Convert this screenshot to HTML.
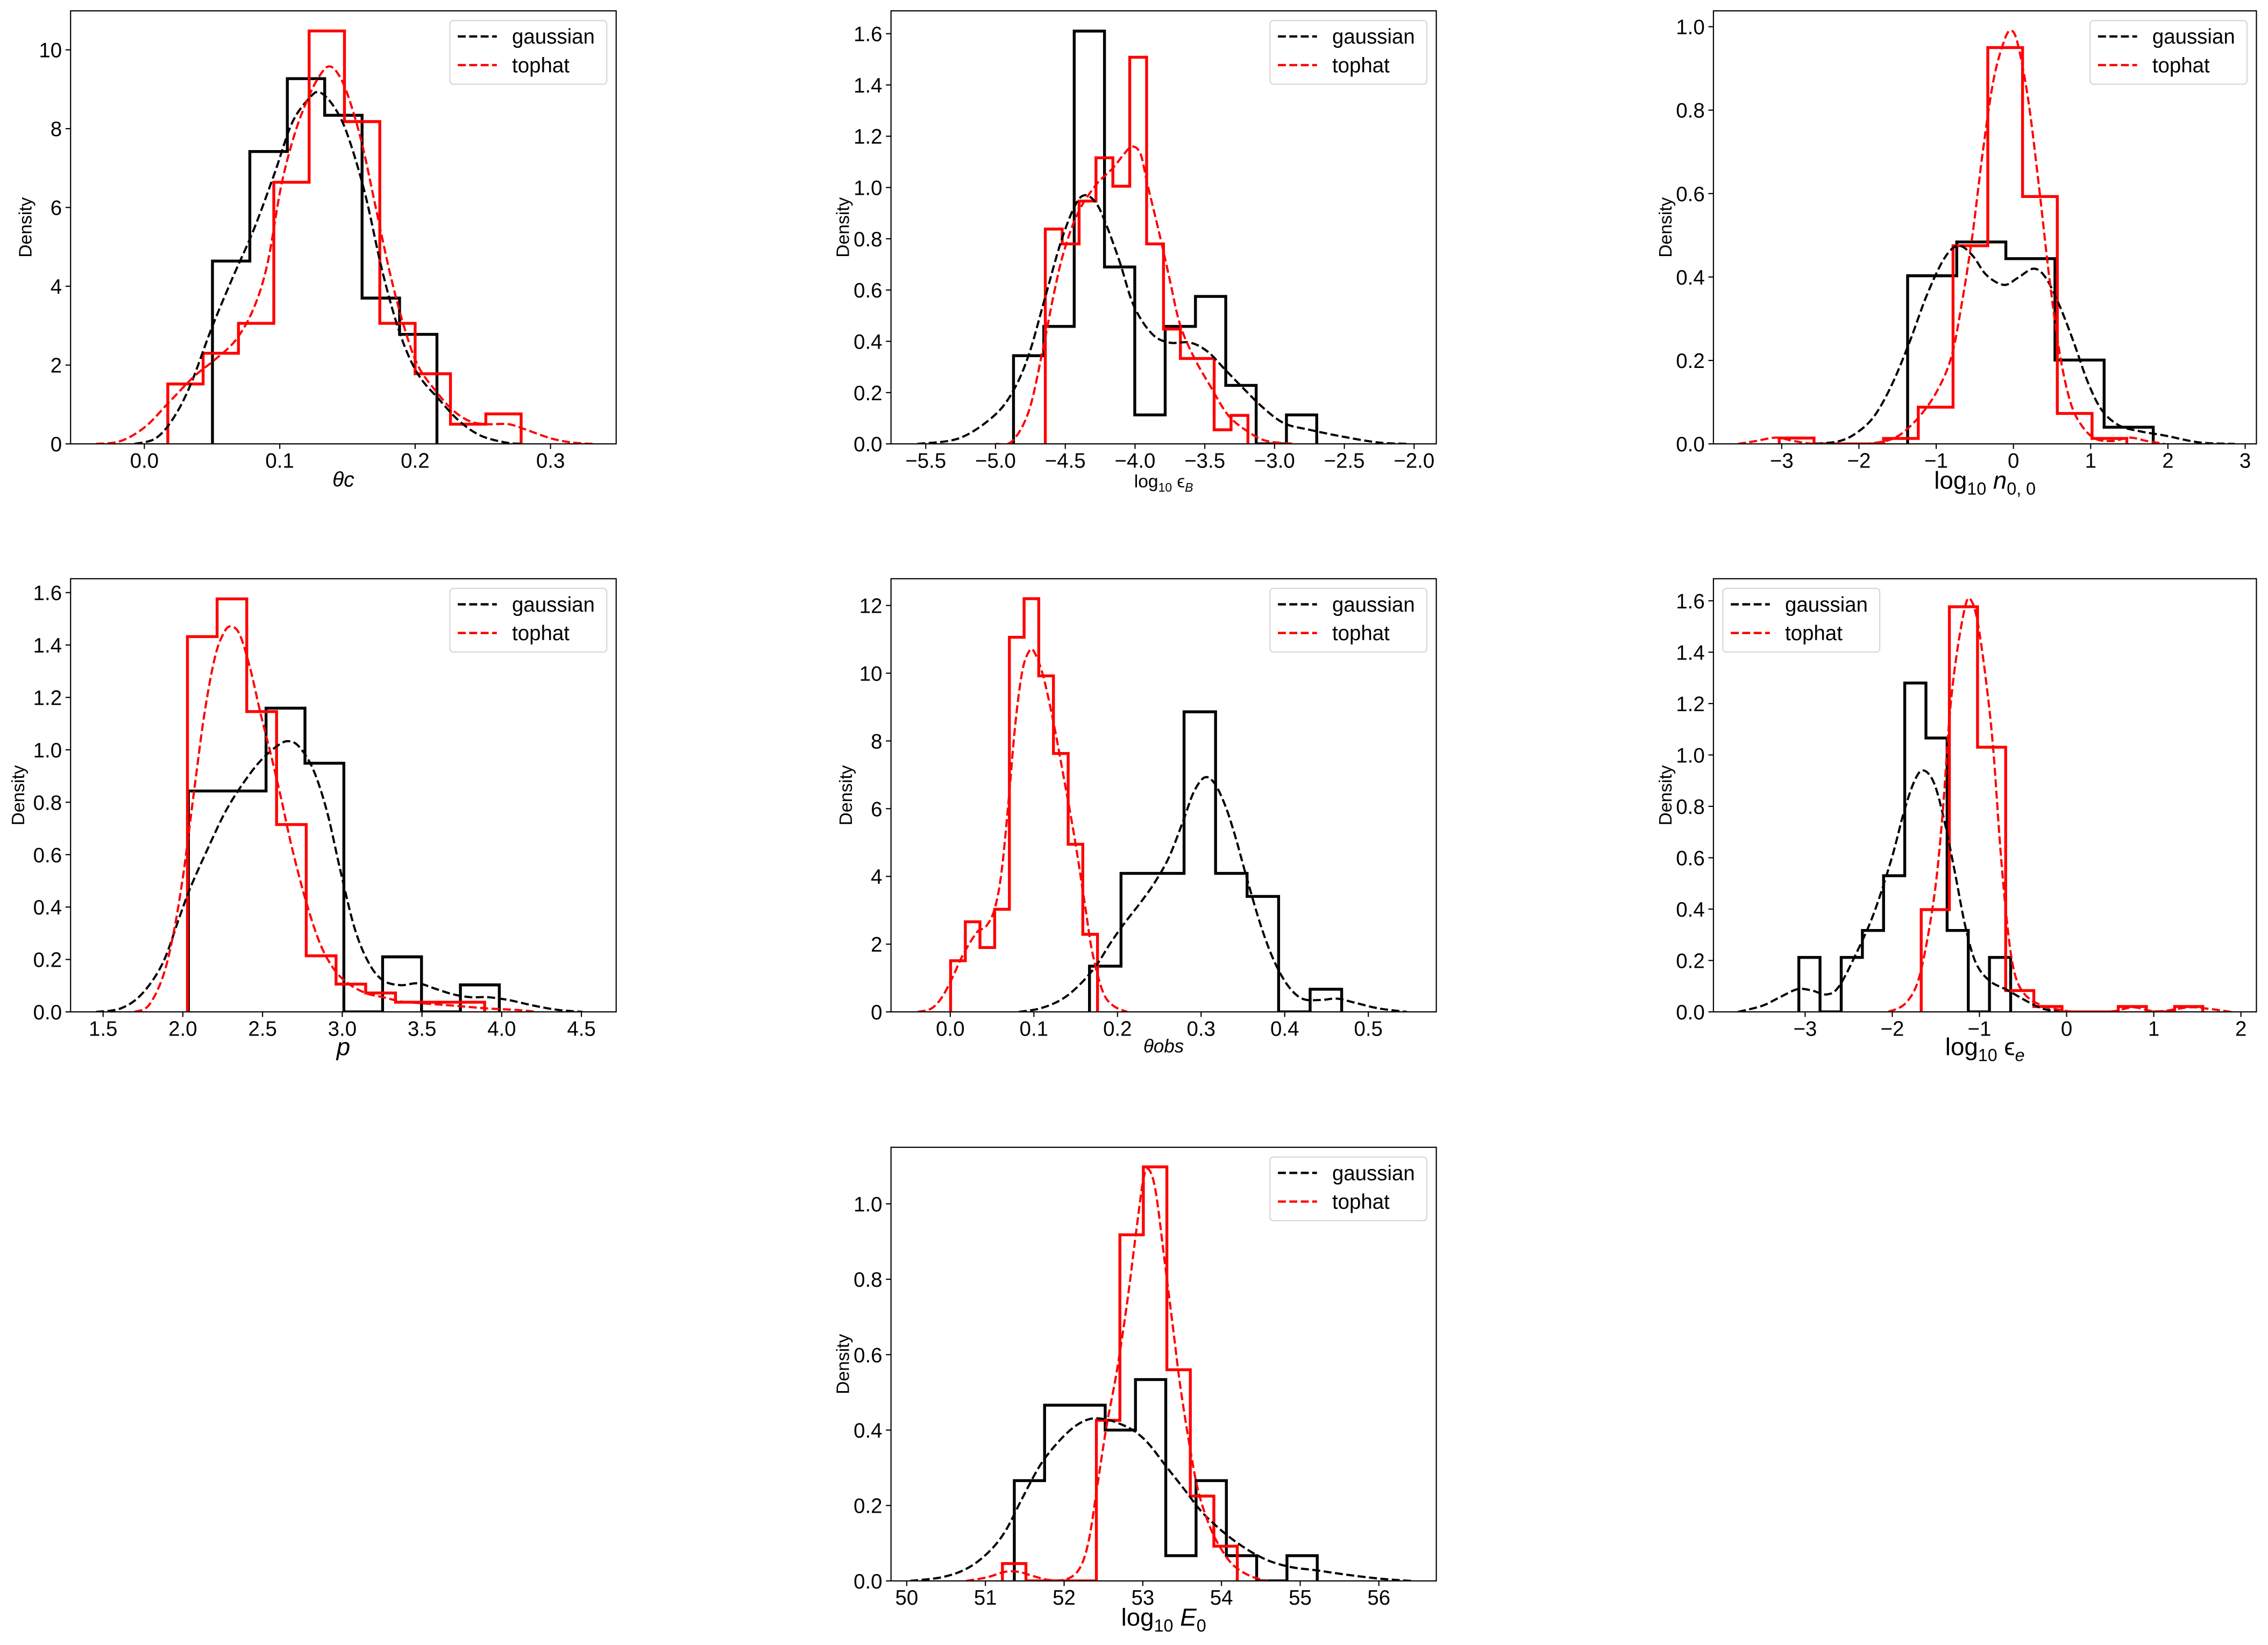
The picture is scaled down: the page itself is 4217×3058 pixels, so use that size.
<!DOCTYPE html>
<html><head><meta charset="utf-8"><title>KDE histograms</title>
<style>html,body{margin:0;padding:0;background:#fff}svg{display:block}</style></head>
<body>
<svg id="fig" xmlns="http://www.w3.org/2000/svg" width="4217" height="3058" viewBox="0 0 1568 1137" preserveAspectRatio="none" font-family="'Liberation Sans','DejaVu Sans',sans-serif"></svg>
<script>
// ---------- Panel 1: theta_c ----------
const p1BlackEdges=[0.0503,0.0779,0.1056,0.1332,0.1608,0.1885,0.2161];
const p1BlackDens=[4.64,7.42,9.27,8.34,3.70,2.78];
const p1RedEdges=[0.0173,0.0434,0.0695,0.0956,0.1217,0.1478,0.1739,0.2,0.2261,0.2522,0.2783];
const p1RedDens=[1.52,2.30,3.06,6.64,10.48,8.18,3.06,1.78,0.50,0.76];
const p1GaussX=[-0.0072,0.0083,0.0212,0.0341,0.0496,0.0651,0.0806,0.096,0.109,0.122,0.1296,0.14,0.150,0.163,0.176,0.189,0.2019,0.2174,0.2329,0.2484,0.2665,0.279];
const p1GaussY=[0,0.14,0.64,1.50,2.93,4.21,5.42,6.85,8.14,8.78,8.92,8.56,7.85,6.35,4.35,2.78,1.78,1.14,0.57,0.21,0.036,0];
const p1TopX=[-0.0356,-0.0176,0.0005,0.0186,0.0367,0.0522,0.0676,0.0806,0.0909,0.1012,0.1115,0.1219,0.1296,0.136,0.1425,0.1503,0.1606,0.1709,0.1813,0.1916,0.2019,0.2148,0.2277,0.2406,0.2535,0.269,0.282,0.300,0.3155,0.331];
const p1TopY=[0,0.071,0.43,1.07,1.71,2.14,2.64,3.43,4.57,6.57,7.92,8.85,9.35,9.58,9.42,8.85,7.64,6.0,4.35,3.0,2.0,1.36,0.86,0.57,0.50,0.50,0.36,0.143,0.036,0];
const p1XTicks=[0,0.1,0.2,0.3];
const p1XTickLabels=["0.0","0.1","0.2","0.3"];
const p1YTicks=[0,2,4,6,8,10];
const p1YTickLabels=["0","2","4","6","8","10"];
// ---------- Panel 2: log10 eps_B ----------
const p2BlackEdges=[-4.871,-4.654,-4.436,-4.219,-4.002,-3.784,-3.567,-3.350,-3.132,-2.915,-2.698];
const p2BlackDens=[0.344,0.458,1.61,0.69,0.113,0.458,0.575,0.228,0,0.113];
const p2RedEdges=[-4.643,-4.522,-4.401,-4.280,-4.159,-4.038,-3.917,-3.796,-3.675,-3.554,-3.433,-3.312,-3.191];
const p2RedDens=[0.838,0.78,0.947,1.116,1.005,1.508,0.78,0.448,0.333,0.333,0.055,0.111];
const p2GaussX=[-5.56,-5.26,-5.01,-4.87,-4.76,-4.645,-4.53,-4.43,-4.36,-4.28,-4.21,-4.11,-4.01,-3.88,-3.755,-3.605,-3.48,-3.355,-3.23,-3.08,-2.93,-2.75,-2.50,-2.25,-2.03];
const p2GaussY=[0,0.022,0.11,0.21,0.35,0.57,0.79,0.93,0.97,0.94,0.86,0.71,0.54,0.43,0.395,0.395,0.36,0.29,0.22,0.14,0.08,0.055,0.027,0.005,0];
const p2TopX=[-4.996,-4.88,-4.76,-4.66,-4.58,-4.51,-4.41,-4.28,-4.16,-4.08,-4.02,-3.96,-3.91,-3.83,-3.755,-3.68,-3.58,-3.455,-3.33,-3.18,-3.053,-2.85];
const p2TopY=[0,0.011,0.13,0.37,0.59,0.75,0.90,1.01,1.075,1.13,1.16,1.13,1.01,0.83,0.65,0.47,0.34,0.22,0.11,0.044,0.011,0];
const p2XTicks=[-5.5,-5.0,-4.5,-4.0,-3.5,-3.0,-2.5,-2.0];
const p2XTickLabels=["−5.5","−5.0","−4.5","−4.0","−3.5","−3.0","−2.5","−2.0"];
const p2YTicks=[0,0.2,0.4,0.6,0.8,1.0,1.2,1.4,1.6];
const p2YTickLabels=["0.0","0.2","0.4","0.6","0.8","1.0","1.2","1.4","1.6"];
// ---------- Panel 3: log10 n0,0 ----------
const p3BlackEdges=[-1.370,-0.734,-0.098,0.538,1.174,1.810];
const p3BlackDens=[0.403,0.484,0.444,0.201,0.040];
const p3RedEdges=[-3.032,-2.582,-2.132,-1.682,-1.232,-0.782,-0.332,0.118,0.568,1.018,1.468];
const p3RedDens=[0.014,0,0,0.013,0.088,0.475,0.950,0.593,0.073,0.013];
const p3GaussX=[-2.570,-2.253,-2.026,-1.80,-1.574,-1.347,-1.12,-0.894,-0.713,-0.532,-0.351,-0.124,0.057,0.261,0.419,0.60,0.782,0.963,1.144,1.37,1.642,1.959,2.412,2.865];
const p3GaussY=[0,0.0067,0.027,0.067,0.142,0.243,0.357,0.445,0.475,0.452,0.405,0.381,0.398,0.420,0.398,0.330,0.243,0.148,0.081,0.044,0.030,0.020,0.0034,0];
const p3TopX=[-3.566,-3.34,-3.068,-2.841,-2.57,-2.117,-1.755,-1.483,-1.211,-0.985,-0.803,-0.668,-0.532,-0.396,-0.26,-0.124,-0.033,0.057,0.193,0.329,0.465,0.60,0.736,0.872,1.053,1.28,1.506,1.733,1.959];
const p3TopY=[0,0.0067,0.015,0.0067,0,0,0.0034,0.020,0.067,0.128,0.209,0.337,0.499,0.701,0.870,0.964,0.991,0.958,0.823,0.62,0.398,0.216,0.101,0.047,0.013,0.0067,0.015,0.0067,0];
const p3XTicks=[-3,-2,-1,0,1,2,3];
const p3XTickLabels=["−3","−2","−1","0","1","2","3"];
const p3YTicks=[0,0.2,0.4,0.6,0.8,1.0];
const p3YTickLabels=["0.0","0.2","0.4","0.6","0.8","1.0"];
// ---------- Panel 4: p ----------
const p4BlackEdges=[2.035,2.279,2.522,2.766,3.010,3.253,3.497,3.741,3.985];
const p4BlackDens=[0.843,0.843,1.159,0.949,0,0.210,0,0.103];
const p4RedEdges=[2.029,2.215,2.401,2.588,2.774,2.961,3.147,3.334,3.520,3.706,3.893];
const p4RedDens=[1.432,1.576,1.146,0.715,0.214,0.106,0.072,0.037,0.037,0.037];
const p4GaussX=[1.456,1.609,1.741,1.873,1.982,2.048,2.158,2.268,2.378,2.487,2.597,2.663,2.729,2.817,2.904,2.992,3.08,3.168,3.256,3.366,3.475,3.585,3.695,3.805,3.914,4.046,4.2,4.353,4.507];
const p4GaussY=[0,0.013,0.067,0.185,0.367,0.475,0.625,0.765,0.872,0.958,1.017,1.033,1.012,0.926,0.765,0.529,0.314,0.185,0.120,0.102,0.109,0.088,0.067,0.056,0.056,0.045,0.024,0.0075,0];
const p4TopX=[1.697,1.785,1.873,1.939,2.004,2.07,2.136,2.202,2.257,2.30,2.356,2.422,2.487,2.553,2.619,2.685,2.773,2.861,2.948,3.036,3.146,3.256,3.366,3.475,3.695,3.914,4.09,4.222];
const p4TopY=[0,0.024,0.131,0.292,0.529,0.84,1.14,1.355,1.446,1.471,1.441,1.312,1.14,0.98,0.808,0.625,0.421,0.260,0.163,0.109,0.072,0.056,0.040,0.034,0.024,0.013,0.0075,0];
const p4XTicks=[1.5,2.0,2.5,3.0,3.5,4.0,4.5];
const p4XTickLabels=["1.5","2.0","2.5","3.0","3.5","4.0","4.5"];
const p4YTicks=[0,0.2,0.4,0.6,0.8,1.0,1.2,1.4,1.6];
const p4YTickLabels=["0.0","0.2","0.4","0.6","0.8","1.0","1.2","1.4","1.6"];
// ---------- Panel 5: theta_obs ----------
const p5BlackEdges=[0.1665,0.2042,0.2419,0.2796,0.3173,0.355,0.3927,0.4304,0.4681];
const p5BlackDens=[1.35,4.09,4.09,8.86,4.09,3.41,0,0.67];
const p5RedEdges=[0.0004,0.018,0.0355,0.0531,0.0707,0.0883,0.1058,0.1234,0.141,0.1585,0.1761];
const p5RedDens=[1.51,2.66,1.90,3.03,11.06,12.2,9.92,7.63,4.95,2.29];
const p5GaussX=[0.082,0.107,0.132,0.153,0.174,0.191,0.2075,0.2285,0.245,0.262,0.279,0.291,0.304,0.316,0.329,0.341,0.354,0.371,0.387,0.404,0.421,0.442,0.463,0.484,0.513,0.546];
const p5GaussY=[0,0.10,0.35,0.76,1.35,2.01,2.59,3.26,3.84,4.59,5.67,6.48,6.92,6.75,6.08,5.17,4.01,2.58,1.52,0.77,0.39,0.35,0.39,0.27,0.10,0];
const p5TopX=[-0.039,-0.0226,-0.010,0.0025,0.0151,0.0318,0.0423,0.0527,0.0611,0.0695,0.0778,0.0862,0.0946,0.1008,0.1113,0.1238,0.1364,0.149,0.1615,0.1699,0.1824,0.195,0.2117];
const p5TopY=[0,0.10,0.43,1.01,1.68,2.35,2.51,3.01,4.09,6.17,8.50,10.07,10.66,10.61,9.90,8.50,6.83,5.09,3.09,1.76,0.60,0.18,0];
const p5XTicks=[0,0.1,0.2,0.3,0.4,0.5];
const p5XTickLabels=["0.0","0.1","0.2","0.3","0.4","0.5"];
const p5YTicks=[0,2,4,6,8,10,12];
const p5YTickLabels=["0","2","4","6","8","10","12"];
// ---------- Panel 6: log10 eps_e ----------
const p6BlackEdges=[-3.072,-2.829,-2.586,-2.343,-2.100,-1.857,-1.614,-1.371,-1.128,-0.885,-0.642];
const p6BlackDens=[0.212,0,0.212,0.317,0.53,1.28,1.066,0.317,0,0.212];
const p6RedEdges=[-1.668,-1.345,-1.022,-0.699,-0.376,-0.053,0.270,0.593,0.916,1.239,1.562];
const p6RedDens=[0.398,1.577,1.03,0.083,0.021,0,0,0.021,0,0.021];
const p6GaussX=[-3.77,-3.49,-3.29,-3.09,-2.93,-2.75,-2.61,-2.41,-2.21,-2.005,-1.865,-1.744,-1.644,-1.52,-1.40,-1.28,-1.16,-1.04,-0.88,-0.68,-0.48,-0.28,-0.08];
const p6GaussY=[0,0.024,0.057,0.088,0.084,0.068,0.10,0.23,0.385,0.60,0.78,0.90,0.94,0.89,0.74,0.54,0.33,0.19,0.12,0.085,0.046,0.013,0];
const p6TopX=[-2.045,-1.844,-1.684,-1.523,-1.423,-1.343,-1.262,-1.162,-1.102,-1.022,-0.921,-0.841,-0.761,-0.681,-0.60,-0.48,-0.279,-0.079,0.12,0.52,0.76,0.965,1.125,1.406,1.607,1.888];
const p6TopY=[0,0.035,0.144,0.44,0.77,1.15,1.39,1.58,1.605,1.52,1.28,1.02,0.64,0.34,0.155,0.068,0.024,0.008,0,0.002,0.018,0.004,0.004,0.018,0.013,0];
const p6XTicks=[-3,-2,-1,0,1,2];
const p6XTickLabels=["−3","−2","−1","0","1","2"];
const p6YTicks=[0,0.2,0.4,0.6,0.8,1.0,1.2,1.4,1.6];
const p6YTickLabels=["0.0","0.2","0.4","0.6","0.8","1.0","1.2","1.4","1.6"];
// ---------- Panel 7: log10 E0 ----------
const p7BlackEdges=[51.367,51.752,52.137,52.522,52.907,53.292,53.677,54.062,54.447,54.832,55.217];
const p7BlackDens=[0.266,0.466,0.466,0.40,0.534,0.067,0.266,0.067,0,0.067];
const p7RedEdges=[51.216,51.515,51.813,52.112,52.410,52.709,53.007,53.306,53.604,53.903,54.201];
const p7RedDens=[0.046,0,0,0,0.426,0.918,1.098,0.56,0.225,0.092];
const p7GaussX=[50.045,50.445,50.757,51.024,51.247,51.47,51.693,51.915,52.138,52.339,52.539,52.717,52.895,53.073,53.296,53.519,53.742,53.964,54.187,54.41,54.633,54.9,55.21,55.57,56.01,56.41];
const p7GaussY=[0,0.0097,0.032,0.073,0.13,0.22,0.306,0.366,0.41,0.43,0.428,0.416,0.397,0.364,0.304,0.245,0.185,0.14,0.103,0.073,0.051,0.036,0.028,0.017,0.006,0];
const p7TopX=[50.757,51.024,51.247,51.425,51.604,51.826,52.049,52.205,52.316,52.428,52.539,52.673,52.806,52.918,53.007,53.073,53.163,53.274,53.385,53.474,53.586,53.697,53.831,53.964,54.143,54.365,54.588];
const p7TopY=[0,0.0097,0.024,0.024,0.013,0.002,0.006,0.036,0.11,0.26,0.41,0.56,0.746,0.93,1.065,1.092,1.034,0.854,0.67,0.52,0.37,0.245,0.155,0.096,0.043,0.013,0];
const p7XTicks=[50,51,52,53,54,55,56];
const p7XTickLabels=["50","51","52","53","54","55","56"];
const p7YTicks=[0,0.2,0.4,0.6,0.8,1.0];
const p7YTickLabels=["0.0","0.2","0.4","0.6","0.8","1.0"];

const NS="http://www.w3.org/2000/svg";
const fig=document.getElementById('fig');
function mk(tag,parent){const e=document.createElementNS(NS,tag);parent.appendChild(e);return e;}

function smoothPath(pts){
  let d="M"+pts[0][0].toFixed(2)+","+pts[0][1].toFixed(2);
  for(let i=0;i<pts.length-1;i++){
    const p0=pts[Math.max(0,i-1)],p1=pts[i],p2=pts[i+1],p3=pts[Math.min(pts.length-1,i+2)];
    const c1x=p1[0]+(p2[0]-p0[0])/6,c1y=p1[1]+(p2[1]-p0[1])/6;
    const c2x=p2[0]-(p3[0]-p1[0])/6,c2y=p2[1]-(p3[1]-p1[1])/6;
    d+=" C"+c1x.toFixed(2)+","+c1y.toFixed(2)+" "+c2x.toFixed(2)+","+c2y.toFixed(2)+" "+p2[0].toFixed(2)+","+p2[1].toFixed(2);
  }
  return d;
}

function panel(cfg){
  const g=mk('g',fig);
  
  
  const L=cfg.box[0],R=cfg.box[1],T=cfg.box[2],B=cfg.box[3];
  const sx=v=>L+(v-cfg.xlim[0])/(cfg.xlim[1]-cfg.xlim[0])*(R-L);
  const sy=v=>B-(v-cfg.ylim[0])/(cfg.ylim[1]-cfg.ylim[0])*(B-T);
  const clipId='clip-'+cfg.name;
  const cp=mk('clipPath',g);cp.setAttribute('id',clipId);
  const cr=mk('rect',cp);cr.setAttribute('x',L);cr.setAttribute('y',T);cr.setAttribute('width',R-L);cr.setAttribute('height',B-T);
  const plot=mk('g',g);plot.setAttribute('clip-path','url(#'+clipId+')');
  
  
  // histograms
  function hist(edges,dens,color,nm){
    let d="M"+sx(edges[0]).toFixed(2)+","+sy(0).toFixed(2);
    for(let i=0;i<dens.length;i++){
      d+=" L"+sx(edges[i]).toFixed(2)+","+sy(dens[i]).toFixed(2)+" L"+sx(edges[i+1]).toFixed(2)+","+sy(dens[i]).toFixed(2);
    }
    d+=" L"+sx(edges[edges.length-1]).toFixed(2)+","+sy(0).toFixed(2);
    const p=mk('path',plot);p.setAttribute('d',d);p.setAttribute('fill','none');p.setAttribute('stroke',color);p.setAttribute('stroke-width','2');p.setAttribute('stroke-linejoin','miter');
    
    
  }
  function kde(xs,ys,color,nm){
    const pts=xs.map((x,i)=>[sx(x),sy(ys[i])]);
    const p=mk('path',plot);p.setAttribute('d',smoothPath(pts));p.setAttribute('fill','none');p.setAttribute('stroke',color);p.setAttribute('stroke-width','1.5');p.setAttribute('stroke-dasharray','5.5,2.4');
    
    
  }
  hist(cfg.bE,cfg.bD,'#000','gaussian-histogram');
  hist(cfg.rE,cfg.rD,'#ff0000','tophat-histogram');
  kde(cfg.gX,cfg.gY,'#000','gaussian-kde-curve');
  kde(cfg.tX,cfg.tY,'#ff0000','tophat-kde-curve');
  // frame
  const fr=mk('rect',g);fr.setAttribute('x',L);fr.setAttribute('y',T);fr.setAttribute('width',R-L);fr.setAttribute('height',B-T);fr.setAttribute('fill','none');fr.setAttribute('stroke','#000');fr.setAttribute('stroke-width','0.8');
  
  
  // x ticks
  cfg.xt.forEach((v,i)=>{
    const x=sx(v);
    const t=mk('line',g);t.setAttribute('x1',x);t.setAttribute('x2',x);t.setAttribute('y1',B);t.setAttribute('y2',B+3.5);t.setAttribute('stroke','#000');t.setAttribute('stroke-width','0.8');
    
    
    const tx=mk('text',g);tx.setAttribute('x',x);tx.setAttribute('y',B+16.5);tx.setAttribute('text-anchor','middle');tx.setAttribute('font-size','14.3');tx.textContent=cfg.xtl[i];
    
    
  });
  cfg.yt.forEach((v,i)=>{
    const y=sy(v);
    const t=mk('line',g);t.setAttribute('x1',L-3.5);t.setAttribute('x2',L);t.setAttribute('y1',y);t.setAttribute('y2',y);t.setAttribute('stroke','#000');t.setAttribute('stroke-width','0.8');
    
    
    const tx=mk('text',g);tx.setAttribute('x',L-6);tx.setAttribute('y',y+5.2);tx.setAttribute('text-anchor','end');tx.setAttribute('font-size','14.3');tx.textContent=cfg.ytl[i];
    
    
  });
  // y label
  const yl=mk('text',g);const yx=L-cfg.ylabOff,yy=(T+B)/2;
  yl.setAttribute('x',yx);yl.setAttribute('y',yy);yl.setAttribute('transform','rotate(-90 '+yx+' '+yy+')');yl.setAttribute('text-anchor','middle');yl.setAttribute('font-size','12.5');yl.textContent='Density';
  
  
  // x label
  const xl=mk('text',g);xl.setAttribute('x',(L+R)/2);xl.setAttribute('y',B+cfg.xlabDy);xl.setAttribute('text-anchor','middle');xl.setAttribute('font-size',cfg.xlabFs);
  xl.innerHTML=cfg.xlab;
  
  
  // legend
  const lg=mk('g',g);
  
  
  const lx=cfg.legLeft?L+6.5:R-115;
  const ly=T+6.7;
  const lb=mk('rect',lg);lb.setAttribute('x',lx);lb.setAttribute('y',ly);lb.setAttribute('width',108.5);lb.setAttribute('height',44);lb.setAttribute('rx',2.5);lb.setAttribute('fill','#fff');lb.setAttribute('fill-opacity','0.8');lb.setAttribute('stroke','#d6d6d6');lb.setAttribute('stroke-width','0.8');
  [['gaussian','#000'],['tophat','#ff0000']].forEach((e,i)=>{
    const yy2=ly+11+i*19.8;
    const ent=mk('g',lg);
    
    
    const ln=mk('line',ent);ln.setAttribute('x1',lx+5.5);ln.setAttribute('x2',lx+32.5);ln.setAttribute('y1',yy2);ln.setAttribute('y2',yy2);ln.setAttribute('stroke',e[1]);ln.setAttribute('stroke-width','1.6');ln.setAttribute('stroke-dasharray','5.5,2.4');
    const tt=mk('text',ent);tt.setAttribute('x',lx+43);tt.setAttribute('y',yy2+5);tt.setAttribute('font-size','14.3');tt.textContent=e[0];
  });
}

const C1=[48.8,426],C2=[616,993],C3=[1184.6,1560];
const R1=[7.5,306.8],R2=[400,699.4],R3=[793,1092.7];
panel({name:'panel-theta-c',box:[C1[0],C1[1],R1[0],R1[1]],xlim:[-0.0545,0.3485],ylim:[0,10.99],
  bE:p1BlackEdges,bD:p1BlackDens,rE:p1RedEdges,rD:p1RedDens,gX:p1GaussX,gY:p1GaussY,tX:p1TopX,tY:p1TopY,
  xt:p1XTicks,xtl:p1XTickLabels,yt:p1YTicks,ytl:p1YTickLabels,ylabOff:27,
  xlab:'<tspan font-style="italic">θc</tspan>',xlabFs:14.5,xlabDy:29.5});
panel({name:'panel-log-eps-b',box:[C2[0],C2[1],R1[0],R1[1]],xlim:[-5.749,-1.841],ylim:[0,1.689],
  bE:p2BlackEdges,bD:p2BlackDens,rE:p2RedEdges,rD:p2RedDens,gX:p2GaussX,gY:p2GaussY,tX:p2TopX,tY:p2TopY,
  xt:p2XTicks,xtl:p2XTickLabels,yt:p2YTicks,ytl:p2YTickLabels,ylabOff:29,
  xlab:'log<tspan font-size="8.5" dy="3">10</tspan><tspan dy="-3"> ϵ</tspan><tspan font-size="8.5" dy="3" font-style="italic">B</tspan>',xlabFs:12.5,xlabDy:30});
panel({name:'panel-log-n00',box:[C3[0],C3[1],R1[0],R1[1]],xlim:[-3.884,3.146],ylim:[0,1.038],
  bE:p3BlackEdges,bD:p3BlackDens,rE:p3RedEdges,rD:p3RedDens,gX:p3GaussX,gY:p3GaussY,tX:p3TopX,tY:p3TopY,
  xt:p3XTicks,xtl:p3XTickLabels,yt:p3YTicks,ytl:p3YTickLabels,ylabOff:29,
  xlab:'log<tspan font-size="12" dy="4">10</tspan><tspan dy="-4" font-style="italic"> n</tspan><tspan font-size="12" dy="4">0, 0</tspan>',xlabFs:17,xlabDy:31});
panel({name:'panel-p',box:[C1[0],C1[1],R2[0],R2[1]],xlim:[1.296,4.718],ylim:[0,1.653],
  bE:p4BlackEdges,bD:p4BlackDens,rE:p4RedEdges,rD:p4RedDens,gX:p4GaussX,gY:p4GaussY,tX:p4TopX,tY:p4TopY,
  xt:p4XTicks,xtl:p4XTickLabels,yt:p4YTicks,ytl:p4YTickLabels,ylabOff:32,
  xlab:'<tspan font-style="italic">p</tspan>',xlabFs:17,xlabDy:30});
panel({name:'panel-theta-obs',box:[C2[0],C2[1],R2[0],R2[1]],xlim:[-0.0709,0.5813],ylim:[0,12.79],
  bE:p5BlackEdges,bD:p5BlackDens,rE:p5RedEdges,rD:p5RedDens,gX:p5GaussX,gY:p5GaussY,tX:p5TopX,tY:p5TopY,
  xt:p5XTicks,xtl:p5XTickLabels,yt:p5YTicks,ytl:p5YTickLabels,ylabOff:27,
  xlab:'<tspan font-style="italic">θobs</tspan>',xlabFs:13,xlabDy:28});
panel({name:'panel-log-eps-e',box:[C3[0],C3[1],R2[0],R2[1]],xlim:[-4.052,2.178],ylim:[0,1.686],
  bE:p6BlackEdges,bD:p6BlackDens,rE:p6RedEdges,rD:p6RedDens,gX:p6GaussX,gY:p6GaussY,tX:p6TopX,tY:p6TopY,
  xt:p6XTicks,xtl:p6XTickLabels,yt:p6YTicks,ytl:p6YTickLabels,ylabOff:29,legLeft:true,
  xlab:'log<tspan font-size="12" dy="4">10</tspan><tspan dy="-4"> ϵ</tspan><tspan font-size="12" dy="4" font-style="italic">e</tspan>',xlabFs:17,xlabDy:30});
panel({name:'panel-log-e0',box:[C2[0],C2[1],R3[0],R3[1]],xlim:[49.80,56.73],ylim:[0,1.150],
  bE:p7BlackEdges,bD:p7BlackDens,rE:p7RedEdges,rD:p7RedDens,gX:p7GaussX,gY:p7GaussY,tX:p7TopX,tY:p7TopY,
  xt:p7XTicks,xtl:p7XTickLabels,yt:p7YTicks,ytl:p7YTickLabels,ylabOff:29,
  xlab:'log<tspan font-size="12" dy="4">10</tspan><tspan dy="-4" font-style="italic"> E</tspan><tspan font-size="12" dy="4">0</tspan>',xlabFs:17,xlabDy:31});
</script>
</body></html>
